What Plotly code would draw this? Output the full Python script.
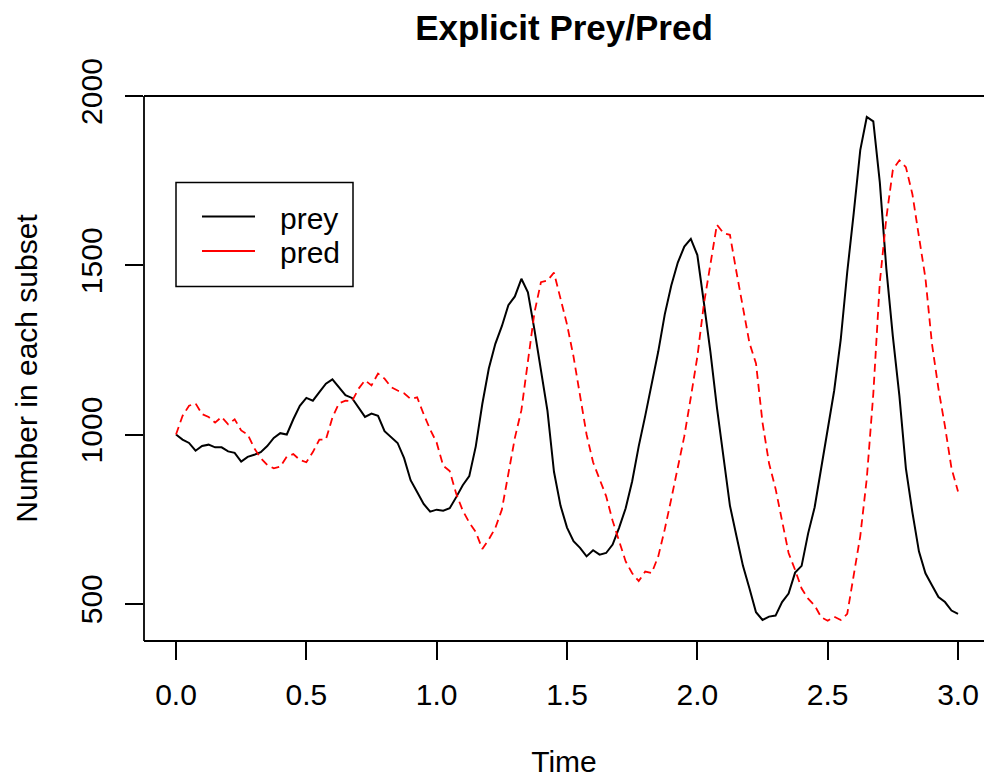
import plotly.graph_objects as go

# ---- data ----
time = [
    0.000, 0.025, 0.050, 0.075, 0.100, 0.125, 0.150, 0.175, 0.200, 0.225,
    0.250, 0.275, 0.300, 0.325, 0.350, 0.375, 0.400, 0.425, 0.450, 0.475,
    0.500, 0.525, 0.550, 0.575, 0.600, 0.625, 0.650, 0.675, 0.700, 0.725,
    0.750, 0.775, 0.800, 0.825, 0.850, 0.875, 0.900, 0.925, 0.950, 0.975,
    1.000, 1.025, 1.050, 1.075, 1.100, 1.125, 1.150, 1.175, 1.200, 1.225,
    1.250, 1.275, 1.300, 1.325, 1.350, 1.375, 1.400, 1.425, 1.450, 1.475,
    1.500, 1.525, 1.550, 1.575, 1.600, 1.625, 1.650, 1.675, 1.700, 1.725,
    1.750, 1.775, 1.800, 1.825, 1.850, 1.875, 1.900, 1.925, 1.950, 1.975,
    2.000, 2.025, 2.050, 2.075, 2.100, 2.125, 2.150, 2.175, 2.200, 2.225,
    2.250, 2.275, 2.300, 2.325, 2.350, 2.375, 2.400, 2.425, 2.450, 2.475,
    2.500, 2.525, 2.550, 2.575, 2.600, 2.625, 2.650, 2.675, 2.700, 2.725,
    2.750, 2.775, 2.800, 2.825, 2.850, 2.875, 2.900, 2.925, 2.950, 2.975,
    3.000,
]

prey = [
    1000, 985, 975, 952, 966, 970, 962, 962, 950, 946,
    920, 934, 940, 948, 966, 990, 1004, 1000, 1045, 1085,
    1108, 1100, 1125, 1150, 1163, 1140, 1116, 1108, 1080, 1052,
    1062, 1055, 1010, 992, 975, 930, 865, 830, 795, 772,
    778, 775, 782, 815, 850, 877, 965, 1090, 1195, 1268,
    1320, 1382, 1408, 1460, 1420, 1310, 1185, 1070, 890, 790,
    725, 685, 665, 640, 658, 645, 650, 675, 725, 782,
    862, 965, 1055, 1153, 1245, 1355, 1440, 1508, 1555, 1578,
    1530, 1390, 1245, 1080, 935, 790, 700, 612, 545, 475,
    452, 462, 465, 505, 530, 592, 612, 708, 785, 900,
    1015, 1130, 1280, 1480, 1655, 1840, 1938, 1925, 1745, 1490,
    1290, 1115, 900, 770, 655, 590, 555, 520, 505, 480,
    470,
]

pred = [
    1000, 1055, 1085, 1092, 1060, 1052, 1035, 1052, 1030, 1045,
    1012, 1000, 960, 930, 910, 900, 905, 935, 942, 925,
    918, 948, 985, 985, 1050, 1092, 1100, 1098, 1135, 1160,
    1145, 1180, 1165, 1140, 1130, 1122, 1105, 1110, 1060, 1015,
    976, 908, 892, 825, 775, 740, 712, 662, 690, 724,
    778, 880, 990, 1072, 1215, 1360, 1450, 1455, 1478, 1405,
    1325, 1230, 1110, 1000, 918, 870, 818, 745, 685, 625,
    590, 567, 595, 591, 640, 720, 810, 900, 995, 1110,
    1230, 1385, 1500, 1620, 1595, 1590, 1480, 1370, 1270, 1210,
    1035, 915, 840, 745, 650, 600, 545, 515, 495, 460,
    450, 462, 452, 470, 580, 700, 870, 1120, 1450, 1640,
    1782, 1810, 1790, 1710, 1585, 1462, 1268, 1135, 1024, 900,
    832,
]

series_names = ["prey", "pred"]
series_colors = ["#000000", "#FF0000"]
x_ticks = [0.0, 0.5, 1.0, 1.5, 2.0, 2.5, 3.0]
x_ticklabels = ["0.0", "0.5", "1.0", "1.5", "2.0", "2.5", "3.0"]
y_ticks = [500, 1000, 1500, 2000]
y_ticklabels = ["500", "1000", "1500", "2000"]

# ---- layout geometry (pixels) ----
W, H = 984, 778
ML, MR, MT, MB = 144, 0, 96, 137
PW, PH = W - ML - MR, H - MT - MB
FONT = "Liberation Sans, Arial, Helvetica, sans-serif"


def px(xp):
    return (xp - ML) / PW


def py(yp):
    return (H - MB - yp) / PH


fig = go.Figure()
fig.add_trace(go.Scatter(
    x=time, y=prey, mode="lines", name=series_names[0],
    line=dict(color=series_colors[0], width=2),
))
fig.add_trace(go.Scatter(
    x=time, y=pred, mode="lines", name=series_names[1],
    line=dict(color=series_colors[1], width=1.8, dash="8px,5px"),
))

shapes = []
box = dict(color="#000000", width=1.8)
# plot box: left, top, bottom (right edge lies outside the picture)
shapes.append(dict(type="line", xref="paper", yref="paper", x0=0, x1=0, y0=0, y1=1, line=box))
shapes.append(dict(type="line", xref="paper", yref="paper", x0=0, x1=1.0, y0=1, y1=1, line=box))
shapes.append(dict(type="line", xref="paper", yref="paper", x0=0, x1=1.0, y0=0, y1=0, line=box))
# legend frame
shapes.append(dict(type="rect", xref="paper", yref="paper",
                   x0=px(176), x1=px(353), y0=py(286.5), y1=py(182.5),
                   line=dict(color="#000000", width=1.5), fillcolor="white"))
annotations = []
leg_y = [216.5, 251]
for name, col, yy in zip(series_names, series_colors, leg_y):
    shapes.append(dict(type="line", xref="paper", yref="paper",
                       x0=px(202), x1=px(255), y0=py(yy), y1=py(yy),
                       line=dict(color=col, width=1.8)))
    annotations.append(dict(xref="paper", yref="paper", x=px(278), y=py(yy + 2),
                            xanchor="left", yanchor="middle", showarrow=False,
                            text=name, font=dict(family=FONT, size=30, color="#000000")))

fig.update_layout(
    width=W, height=H,
    margin=dict(l=ML, r=MR, t=MT, b=MB, pad=0),
    paper_bgcolor="white", plot_bgcolor="white",
    showlegend=False,
    font=dict(family=FONT, size=30, color="#000000"),
    title=dict(text="<b>Explicit Prey/Pred</b>", x=0.5, xref="paper", xanchor="center",
               y=1 - 28 / H, yref="container", yanchor="middle",
               font=dict(family=FONT, size=35, color="#000000")),
    shapes=shapes,
    annotations=annotations,
)
fig.update_xaxes(
    range=[-0.1228, -0.1228 + PW / 260.67],
    tickvals=x_ticks, ticktext=x_ticklabels,
    ticks="outside", ticklen=18, tickwidth=1.8, tickcolor="#000000",
    ticklabelstandoff=9,
    showgrid=False, zeroline=False, showline=False,
    title=dict(text="Time", standoff=40, font=dict(family=FONT, size=30)),
)
fig.update_yaxes(
    range=[390, 2000],
    tickvals=y_ticks, ticktext=y_ticklabels, tickangle=-90,
    ticks="outside", ticklen=18, tickwidth=1.8, tickcolor="#000000",
    ticklabelstandoff=11,
    showgrid=False, zeroline=False, showline=False,
    title=dict(text="Number in each subset", standoff=28, font=dict(family=FONT, size=30)),
)

fig.write_html("out.html")
